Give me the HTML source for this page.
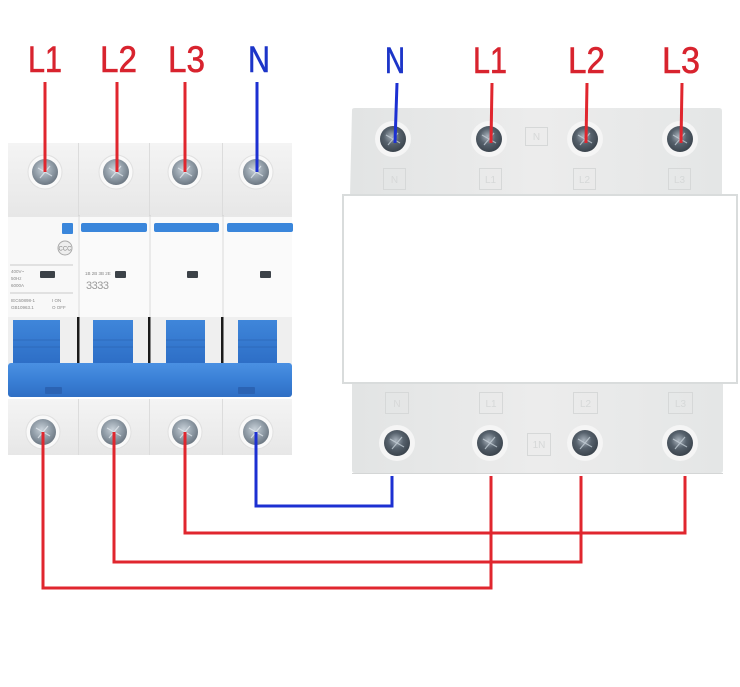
<!DOCTYPE html>
<html><head><meta charset="utf-8"><style>
html,body{margin:0;padding:0;background:#fff;}
svg{display:block;}
</style></head><body>
<svg width="740" height="687" viewBox="0 0 740 687" xmlns="http://www.w3.org/2000/svg">
<defs>
<radialGradient id="scrL" cx="0.45" cy="0.4" r="0.6">
<stop offset="0" stop-color="#c9d2da"/><stop offset="0.6" stop-color="#8f9ba6"/><stop offset="1" stop-color="#6d7883"/>
</radialGradient>
<radialGradient id="scrD" cx="0.45" cy="0.4" r="0.6">
<stop offset="0" stop-color="#a9b3bd"/><stop offset="0.5" stop-color="#56616c"/><stop offset="1" stop-color="#3b444d"/>
</radialGradient>
<linearGradient id="blueBar" x1="0" y1="0" x2="0" y2="1">
<stop offset="0" stop-color="#4a90e2"/><stop offset="0.5" stop-color="#3a80d6"/><stop offset="1" stop-color="#2f6fc4"/>
</linearGradient>
<linearGradient id="handle" x1="0" y1="0" x2="0" y2="1">
<stop offset="0" stop-color="#3f86da"/><stop offset="1" stop-color="#2d6ec6"/>
</linearGradient>
<linearGradient id="term" x1="0" y1="0" x2="0" y2="1">
<stop offset="0" stop-color="#f4f4f4"/><stop offset="1" stop-color="#e7e7e7"/>
</linearGradient>
<linearGradient id="mgrey" x1="0" y1="0" x2="1" y2="0">
<stop offset="0" stop-color="#e2e4e4"/><stop offset="0.5" stop-color="#ececec"/><stop offset="1" stop-color="#e4e6e6"/>
</linearGradient>
</defs>

<!-- ============ LEFT BREAKER ============ -->
<rect x="8" y="143" width="70" height="73" fill="url(#term)"/>
<rect x="79" y="143" width="70" height="73" fill="url(#term)"/>
<rect x="150" y="143" width="72" height="73" fill="url(#term)"/>
<rect x="223" y="143" width="69" height="73" fill="url(#term)"/>
<g stroke="#dcdcdc" stroke-width="1">
<line x1="78.5" y1="143" x2="78.5" y2="216"/><line x1="149.5" y1="143" x2="149.5" y2="216"/><line x1="222.5" y1="143" x2="222.5" y2="216"/>
</g>
<rect x="8" y="215" width="70" height="102" fill="#f8f8f8"/>
<rect x="80" y="215" width="69" height="102" fill="#fafafa"/>
<rect x="151" y="215" width="71" height="102" fill="#fafafa"/>
<rect x="224" y="215" width="68" height="102" fill="#fafafa"/>
<g stroke="#d6d6d6" stroke-width="1">
<line x1="79" y1="215" x2="79" y2="317"/><line x1="150" y1="215" x2="150" y2="317"/><line x1="223" y1="215" x2="223" y2="317"/>
<line x1="8" y1="216" x2="292" y2="216"/>
</g>
<rect x="62" y="223" width="11" height="11" rx="1" fill="#3a86db"/>
<rect x="81" y="223" width="66" height="9" rx="2" fill="#3a86db"/>
<rect x="154" y="223" width="65" height="9" rx="2" fill="#3a86db"/>
<rect x="227" y="223" width="66" height="9" rx="2" fill="#3a86db"/>
<circle cx="65" cy="248" r="7" fill="#eee" stroke="#aaa" stroke-width="1"/>
<text x="65" y="250.5" font-family="Liberation Sans, sans-serif" font-size="6" fill="#888" text-anchor="middle">CCC</text>
<line x1="10" y1="265" x2="73" y2="265" stroke="#bbb" stroke-width="0.8"/>
<line x1="10" y1="293" x2="73" y2="293" stroke="#bbb" stroke-width="0.8"/>
<rect x="40" y="271" width="15" height="7" rx="1" fill="#3c4248"/>
<rect x="115" y="271" width="11" height="7" rx="1" fill="#3c4248"/>
<rect x="187" y="271" width="11" height="7" rx="1" fill="#3c4248"/>
<rect x="260" y="271" width="11" height="7" rx="1" fill="#3c4248"/>
<g font-family="Liberation Sans, sans-serif" font-size="4.5" fill="#888">
<text x="11" y="273">400V~</text>
<text x="11" y="280">50Hz</text>
<text x="11" y="287">6000A</text>
<text x="11" y="302">IEC60898-1</text>
<text x="11" y="309">GB10963.1</text>
<text x="52" y="302">I ON</text>
<text x="52" y="309">O OFF</text>
<text x="85" y="275">1B 2B 3B 2E</text>
</g>
<text x="86" y="289" font-family="Liberation Sans, sans-serif" font-size="11" fill="#9a9a9a" letter-spacing="-0.5">3333</text>
<rect x="8" y="317" width="284" height="47" fill="#efefef"/>
<g fill="#1a1a1a">
<rect x="77" y="317" width="2.5" height="47"/><rect x="148" y="317" width="2.5" height="47"/><rect x="221" y="317" width="2.5" height="47"/>
</g>
<rect x="13" y="320" width="47" height="44" fill="url(#handle)"/>
<rect x="93" y="320" width="40" height="44" fill="url(#handle)"/>
<rect x="166" y="320" width="39" height="44" fill="url(#handle)"/>
<rect x="238" y="320" width="39" height="44" fill="url(#handle)"/>
<g stroke="#2a62b0" stroke-width="1" opacity="0.6">
<line x1="13" y1="340" x2="60" y2="340"/><line x1="93" y1="340" x2="133" y2="340"/><line x1="166" y1="340" x2="205" y2="340"/><line x1="238" y1="340" x2="277" y2="340"/>
<line x1="13" y1="347" x2="60" y2="347"/><line x1="93" y1="347" x2="133" y2="347"/><line x1="166" y1="347" x2="205" y2="347"/><line x1="238" y1="347" x2="277" y2="347"/>
</g>
<rect x="8" y="363" width="284" height="34" rx="3" fill="url(#blueBar)"/>
<rect x="45" y="387" width="17" height="7" rx="1" fill="#2b63b3"/>
<rect x="238" y="387" width="17" height="7" rx="1" fill="#2b63b3"/>
<rect x="8" y="399" width="284" height="56" fill="url(#term)"/>
<g stroke="#dcdcdc" stroke-width="1">
<line x1="78.5" y1="399" x2="78.5" y2="455"/><line x1="149.5" y1="399" x2="149.5" y2="455"/><line x1="222.5" y1="399" x2="222.5" y2="455"/>
</g>

<g>
<circle cx="45" cy="172" r="17" fill="#f9f9f9" stroke="#e0e0e0"/><circle cx="45" cy="172" r="13" fill="url(#scrL)"/>
<circle cx="116" cy="172" r="17" fill="#f9f9f9" stroke="#e0e0e0"/><circle cx="116" cy="172" r="13" fill="url(#scrL)"/>
<circle cx="185" cy="172" r="17" fill="#f9f9f9" stroke="#e0e0e0"/><circle cx="185" cy="172" r="13" fill="url(#scrL)"/>
<circle cx="256" cy="172" r="17" fill="#f9f9f9" stroke="#e0e0e0"/><circle cx="256" cy="172" r="13" fill="url(#scrL)"/>
<circle cx="43" cy="432" r="17" fill="#f9f9f9" stroke="#e0e0e0"/><circle cx="43" cy="432" r="13" fill="url(#scrL)"/>
<circle cx="114" cy="432" r="17" fill="#f9f9f9" stroke="#e0e0e0"/><circle cx="114" cy="432" r="13" fill="url(#scrL)"/>
<circle cx="185" cy="432" r="17" fill="#f9f9f9" stroke="#e0e0e0"/><circle cx="185" cy="432" r="13" fill="url(#scrL)"/>
<circle cx="256" cy="432" r="17" fill="#f9f9f9" stroke="#e0e0e0"/><circle cx="256" cy="432" r="13" fill="url(#scrL)"/>
</g>
<g stroke="#e8eef3" stroke-width="1.2" opacity="0.7">
<path d="M38 168 L52 176 M40 178 L50 166"/><path d="M109 168 L123 176 M111 178 L121 166"/><path d="M178 168 L192 176 M180 178 L190 166"/><path d="M249 168 L263 176 M251 178 L261 166"/>
<path d="M36 428 L50 436 M38 438 L48 426"/><path d="M107 428 L121 436 M109 438 L119 426"/><path d="M178 428 L192 436 M180 438 L190 426"/><path d="M249 428 L263 436 M251 438 L261 426"/>
</g>

<!-- ============ METER ============ -->
<path d="M352 110 Q352 108 355 108 L719 108 Q722 108 722 111 L722 196 L350 196 Z" fill="url(#mgrey)"/>
<path d="M352 382 L723 382 L723 470 Q723 473 720 473 L355 473 Q352 473 352 470 Z" fill="url(#mgrey)"/>
<line x1="352" y1="473.5" x2="723" y2="473.5" stroke="#d4d6d6" stroke-width="1"/>
<g fill="none" stroke="#d6d8d8" stroke-width="1">
<rect x="525.5" y="127.5" width="22" height="18"/>
<rect x="383.5" y="168.5" width="22" height="21"/>
<rect x="479.5" y="168.5" width="22" height="21"/>
<rect x="573.5" y="168.5" width="22" height="21"/>
<rect x="668.5" y="168.5" width="22" height="21"/>
<rect x="385.5" y="392.5" width="23" height="21"/>
<rect x="479.5" y="392.5" width="23" height="21"/>
<rect x="573.5" y="392.5" width="24" height="21"/>
<rect x="668.5" y="392.5" width="24" height="21"/>
<rect x="527.5" y="433.5" width="23" height="22"/>
</g>
<g font-family="Liberation Sans, sans-serif" font-size="10" fill="#d6d8d8" text-anchor="middle">
<text x="394.5" y="183">N</text><text x="490.5" y="183">L1</text><text x="584.5" y="183">L2</text><text x="679.5" y="183">L3</text>
<text x="397" y="407">N</text><text x="491" y="407">L1</text><text x="585.5" y="407">L2</text><text x="680.5" y="407">L3</text>
<text x="539" y="448">1N</text><text x="536.5" y="140">N</text>
</g>
<rect x="343" y="195" width="394" height="188" fill="#ffffff" stroke="#d9dcdc" stroke-width="2"/>
<g>
<circle cx="393" cy="139" r="18" fill="#f5f5f5"/><circle cx="393" cy="139" r="13" fill="url(#scrD)"/>
<circle cx="489" cy="139" r="18" fill="#f5f5f5"/><circle cx="489" cy="139" r="13" fill="url(#scrD)"/>
<circle cx="585" cy="139" r="18" fill="#f5f5f5"/><circle cx="585" cy="139" r="13" fill="url(#scrD)"/>
<circle cx="680" cy="139" r="18" fill="#f5f5f5"/><circle cx="680" cy="139" r="13" fill="url(#scrD)"/>
<circle cx="397" cy="443" r="18" fill="#f5f5f5"/><circle cx="397" cy="443" r="13" fill="url(#scrD)"/>
<circle cx="490" cy="443" r="18" fill="#f5f5f5"/><circle cx="490" cy="443" r="13" fill="url(#scrD)"/>
<circle cx="585" cy="443" r="18" fill="#f5f5f5"/><circle cx="585" cy="443" r="13" fill="url(#scrD)"/>
<circle cx="680" cy="443" r="18" fill="#f5f5f5"/><circle cx="680" cy="443" r="13" fill="url(#scrD)"/>
</g>
<g stroke="#c8d2da" stroke-width="1.2" opacity="0.75">
<path d="M386 135 L400 143 M388 145 L398 133"/><path d="M482 135 L496 143 M484 145 L494 133"/><path d="M578 135 L592 143 M580 145 L590 133"/><path d="M673 135 L687 143 M675 145 L685 133"/>
<path d="M390 439 L404 447 M392 449 L402 437"/><path d="M483 439 L497 447 M485 449 L495 437"/><path d="M578 439 L592 447 M580 449 L590 437"/><path d="M673 439 L687 447 M675 449 L685 437"/>
</g>

<!-- ============ WIRES ============ -->
<g fill="none" stroke-width="3" stroke-linejoin="miter">
<line x1="45" y1="82" x2="45" y2="172" stroke="#e0262e"/>
<line x1="117" y1="82" x2="117" y2="172" stroke="#e0262e"/>
<line x1="185" y1="82" x2="185" y2="172" stroke="#e0262e"/>
<line x1="257" y1="82" x2="257" y2="172" stroke="#1c30d2"/>
<line x1="397" y1="83" x2="395" y2="143" stroke="#1c30d2"/>
<line x1="492" y1="83" x2="491" y2="143" stroke="#e0262e"/>
<line x1="587" y1="83" x2="586" y2="143" stroke="#e0262e"/>
<line x1="682" y1="83" x2="681" y2="143" stroke="#e0262e"/>
<path d="M256 432 V506 H392 V476" stroke="#1c30d2"/>
<path d="M185 432 V533 H685 V476" stroke="#e0262e"/>
<path d="M114 432 V562 H581 V476" stroke="#e0262e"/>
<path d="M43 432 V588 H491 V476" stroke="#e0262e"/>
</g>

<!-- ============ LABELS ============ -->
<g font-family="Liberation Sans, Arial, sans-serif" font-size="37" stroke-width="0.6">
<text x="28" y="72" textLength="34" lengthAdjust="spacingAndGlyphs" fill="#d8232e" stroke="#d8232e">L1</text>
<text x="100" y="72" textLength="37" lengthAdjust="spacingAndGlyphs" fill="#d8232e" stroke="#d8232e">L2</text>
<text x="168" y="72" textLength="37" lengthAdjust="spacingAndGlyphs" fill="#d8232e" stroke="#d8232e">L3</text>
<text x="248" y="72" textLength="22" lengthAdjust="spacingAndGlyphs" fill="#1c35c8" stroke="#1c35c8">N</text>
<text x="385" y="73" textLength="20" lengthAdjust="spacingAndGlyphs" fill="#1c35c8" stroke="#1c35c8">N</text>
<text x="473" y="73" textLength="34" lengthAdjust="spacingAndGlyphs" fill="#d8232e" stroke="#d8232e">L1</text>
<text x="568" y="73" textLength="37" lengthAdjust="spacingAndGlyphs" fill="#d8232e" stroke="#d8232e">L2</text>
<text x="662" y="73" textLength="38" lengthAdjust="spacingAndGlyphs" fill="#d8232e" stroke="#d8232e">L3</text>
</g>
</svg>
</body></html>
